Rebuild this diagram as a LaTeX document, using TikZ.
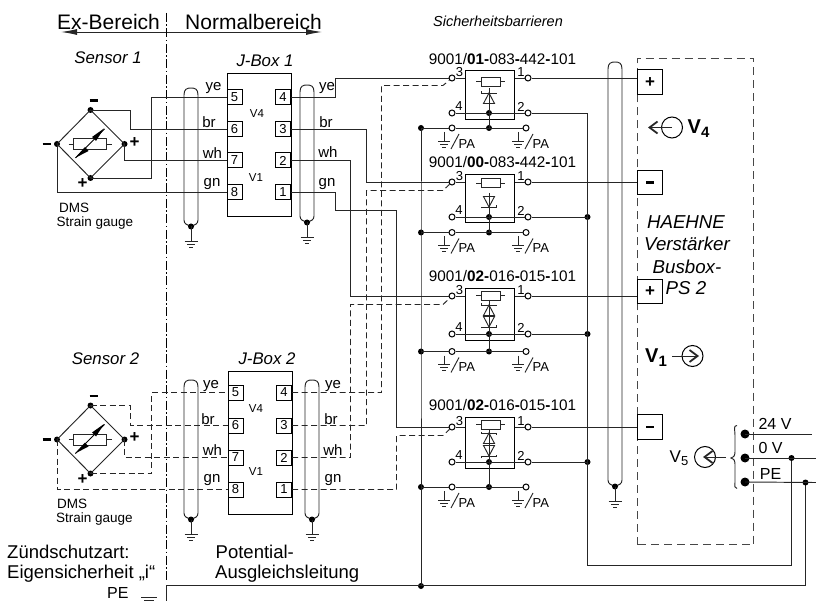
\documentclass[tikz,border=0pt]{standalone}
\usepackage{fontspec}
\setmainfont{Liberation Sans}
\usetikzlibrary{arrows.meta}
\tikzset{
 wire/.style={line width=0.95pt,line join=miter,color=black!85},
 dwire/.style={wire,dash pattern=on 6pt off 3.5pt},
 pin/.style={draw,line width=1pt,minimum width=15pt,minimum height=15pt,inner sep=0,font=\fontsize{13}{14}\selectfont,fill=white},
 jbox/.style={draw,line width=1pt,inner sep=0,anchor=north west},
 barrier/.style={draw,line width=1pt,inner sep=0,anchor=north west},
 term/.style={circle,draw,line width=1pt,fill=white,minimum size=6pt,inner sep=0},
 dotn/.style={circle,fill=black,minimum size=6pt,inner sep=0},
 bigdot/.style={circle,fill=black,minimum size=9pt,inner sep=0},
 txt/.style={inner sep=0,font=\fontsize{11.5}{13}\selectfont},
 dms/.style={inner sep=0,anchor=west,font=\fontsize{13.5}{15}\selectfont},
 big/.style={inner sep=0,font=\fontsize{21}{23}\selectfont},
 mid/.style={inner sep=0,anchor=west,font=\fontsize{18.5}{20}\selectfont},
 sit/.style={inner sep=0,font=\itshape\fontsize{16.8}{18}\selectfont},
 hae/.style={inner sep=0,font=\itshape\fontsize{18.7}{20}\selectfont},
 lbl/.style={inner sep=0,font=\fontsize{15}{16}\selectfont},
 sup/.style={inner sep=0,font=\fontsize{16}{18}\selectfont},
 code/.style={inner sep=0,font=\fontsize{15.3}{17}\selectfont},
 nrr/.style={inner sep=0,font=\fontsize{13}{14}\selectfont},
 pol/.style={inner sep=0,font=\bfseries\fontsize{17}{18}\selectfont},
 tbox/.style={draw,line width=1pt,minimum width=25pt,minimum height=24.5pt,inner sep=0,anchor=north west,fill=white,font=\bfseries\fontsize{17}{18}\selectfont},
 barb/.style={-{Straight Barb[length=8pt,width=12pt,line width=1.8pt]}},
}
\newcommand{\gndsym}[2]{% x, y (top of symbol)
 \draw[wire] (#1-6.5,#2) -- (#1+6.5,#2) (#1-4.2,#2+3) -- (#1+4.2,#2+3) (#1-2,#2+6) -- (#1+2,#2+6);}
\newcommand{\shieldcable}[5]{% name x1 x2 ytop ybot
 \pgfmathsetmacro{\cxm}{(#2+#3)/2}
 \draw[wire] (#2,{#4+7}) .. controls (#2,{#4+1}) and (#2+3,#4) .. (\cxm,#4) .. controls (#3-3,#4) and (#3,{#4+1}) .. (#3,{#4+7}) -- (#3,{#5-5}) .. controls (#3,{#5-1}) and (#3-3,#5) .. (\cxm,{#5+1}) .. controls (#2+3,#5) and (#2,{#5-1}) .. (#2,{#5-5}) -- cycle;
 \node[dotn] (#1) at (\cxm,{#5+1.5}) {};
 \draw[wire] (#1.center) -- ++(0,15);
 \gndsym{\cxm}{#5+16.5}}
\newcommand{\sensor}[3]{% name, cx, cy
 \node[dotn] (#1t) at (#2,#3-34) {};
 \node[dotn] (#1b) at (#2,#3+34) {};
 \node[dotn] (#1l) at (#2-33.5,#3) {};
 \node[dotn] (#1r) at (#2+34,#3) {};
 \draw[wire] (#1t.center) -- (#1r.center) -- (#1b.center) -- (#1l.center) -- cycle;
 \draw[wire] (#2-22,#3) -- (#2-17,#3) (#2+16,#3) -- (#2+21,#3);
 \draw[wire] (#2-17,#3-5.5) rectangle (#2+16,#3+5.5);
 \draw[line width=0.9pt] (#2-15,#3+14) -- (#2+14,#3-15) ;
 \fill (#2-15.5,#3+14) -- (#2-5.5,#3+3) -- (#2-2,#3+7) -- cycle;
 \fill (#2+13.5,#3-15.5) -- (#2+5.5,#3-3) -- (#2+1.5,#3-7) -- cycle;
 \node[pol] at (#2+3,#3-43.5) {\rule{8pt}{2.5pt}};
 \node[pol] at (#2-44,#3) {\rule{8pt}{2.5pt}};
 \node[pol] at (#2+44,#3-1.5) {+};
 \node[pol] at (#2-8,#3+40) {+};}
\newcommand{\zenerU}[2]{% apex up, x, y of bar
 \draw[wire] (#1-7.5,#2-1.5) -- (#1-7.5,#2) -- (#1+7.5,#2) -- (#1+7.5,#2+1.5);
 \draw[wire] (#1,#2) -- (#1-5.5,#2+10.5) -- (#1+5.5,#2+10.5) -- cycle;}
\newcommand{\zenerD}[2]{% apex down
 \draw[wire] (#1-7.5,#2+1.5) -- (#1-7.5,#2) -- (#1+7.5,#2) -- (#1+7.5,#2-1.5);
 \draw[wire] (#1,#2) -- (#1-5.5,#2-10.5) -- (#1+5.5,#2-10.5) -- cycle;}
\newcommand{\pasym}[3]{% ground & slash at x,y
 \draw[wire] (#1,#2+4) -- (#1,#2+13);
 \draw[wire] (#1-6,#2+13) -- (#1+6,#2+13) (#1-4,#2+16) -- (#1+4,#2+16) (#1-2,#2+19) -- (#1+2,#2+19);
 \draw[wire] (#1+15,#2+6) -- (#1+7,#2+21);
 \node[nrr,anchor=west] at (#1+14.5,#2+16) {#3};}
\newcommand{\barrierrow}[8]{% name, ytop, ybot, y3, y4, ypa, resistor y centre, label
 \pgfmathsetlengthmacro{\bhh}{(#3-#2)*1pt}
 \node[barrier,minimum width=49pt,minimum height=\bhh] (#1) at (465,#2) {};
 \node[term] (#1t3) at (452,#4) {};
 \node[term] (#1t1) at (528,#4) {};
 \node[term] (#1t4) at (452,#5) {};
 \node[term] (#1t2) at (528,#5) {};
 \node[term] (#1pa) at (452,#6) {};
 \node[term] (#1pb) at (526,#6) {};
 \node[dotn] (#1d) at (489,#5) {};
 \node[dotn] (#1e) at (489,#6) {};
 \node[dotn] (#1g) at (421,#6) {};
 \draw[wire] (#1t3) -- (#1.west |- #1t3);
 \draw[wire] (#1t1) -- (#1.east |- #1t1);
 \draw[wire] (#1t4) -- (#1t2);
 \draw[wire] (#1pa) -- (#1pb);
 \draw[wire] (#1g.center) -- (#1pa);
 \draw[wire] (#1d.center) -- (#1e.center);
 \draw[wire] (476,#7) -- (481,#7) (500,#7) -- (505,#7);
 \draw[wire] (481,#7-4.5) rectangle (500,#7+4.5);
 \node[code] at (502.5,#2-11.5) {#8};
 \node[nrr] at (459.5,#4-6) {3};
 \node[nrr] at (521,#4-6) {1};
 \node[nrr] at (459,#5-6.5) {4};
 \node[nrr] at (521,#5-6.5) {2};
 \pasym{444}{#6}{PA}
 \pasym{518}{#6}{PA}}
\begin{document}
\begin{tikzpicture}[x=1pt,y=-1pt]
\useasboundingbox (0,0) rectangle (816,601);
% header
\node[big] (exb) at (108.5,22) {Ex-Bereich};
\node[big] (nrm) at (253.5,22) {Normalbereich};
\coordinate (arL) at (61,32);
\coordinate (arR) at (322,32);
\draw[wire,{Latex[length=16pt,width=6pt]}-{Latex[length=16pt,width=6pt]}] (arL) -- (arR);
\coordinate (sepT) at (166.5,13);
\coordinate (sepB) at (166.5,581);
\draw[line width=0.7pt,dash pattern=on 9pt off 2.5pt on 1.5pt off 2.5pt] (sepT) -- (sepB);
\node[sit] (s1) at (108,58) {Sensor 1};
\node[sit] (j1) at (265,61) {J-Box 1};
\node[inner sep=0,font=\itshape\fontsize{14.5}{16}\selectfont] (sbh) at (498,21) {Sicherheitsbarrieren};
\node[sit] (s2) at (105.5,359) {Sensor 2};
\node[sit] (j2) at (267,359) {J-Box 2};
% J-boxes
\node[jbox,minimum width=64pt,minimum height=143pt] (J1) at (227,73) {};
\foreach \n/\y in {5/97.5,6/129.5,7/160.5,8/192.5}{\node[pin] (a\n) at (234.5,\y) {\n};}
\foreach \n/\y in {4/97.5,3/129.5,2/160.5,1/192.5}{\node[pin] (a\n) at (283,\y) {\n};}
\node[txt] at (257,114) {V4};
\node[txt] at (256,178) {V1};
\node[jbox,minimum width=64pt,minimum height=143pt] (J2) at (228,371) {};
\foreach \n/\y in {5/392.5,6/425.5,7/457.5,8/489.5}{\node[pin] (b\n) at (235.5,\y) {\n};}
\foreach \n/\y in {4/392.5,3/425.5,2/457.5,1/489.5}{\node[pin] (b\n) at (284,\y) {\n};}
\node[txt] at (256,409) {V4};
\node[txt] at (256,472) {V1};
% sensors
\sensor{sa}{90.5}{144}
\sensor{sb}{90.5}{439.5}
% sensor 1 wiring
\draw[wire] (sat.center) -- (130.5,110) -- (130.5,129.5) -- (a6);
\draw[wire] (sar.center) -- (124.5,160.5) -- (a7);
\draw[wire] (sab.center) -- (151,178) -- (151,97.5) -- (a5);
\draw[wire] (sal.center) -- (57,192.5) -- (a8);
% sensor 2 wiring
\draw[dwire] (sbt.center) -- (130.5,405.5) -- (130.5,425.5) -- (b6);
\draw[dwire] (sbr.center) -- (124.5,457.5) -- (b7);
\draw[dwire] (sbb.center) -- (151.5,473.5) -- (151.5,392.5) -- (b5);
\draw[dwire] (sbl.center) -- (57,489.5) -- (b8);
% barriers
\barrierrow{B1}{70.5}{119}{78}{113}{128}{81.5}{9001/\textbf{01-}083\textbf{-}442\textbf{-}101}
\barrierrow{B2}{174}{222.5}{182}{217}{232.5}{183}{9001/\textbf{00-}083\textbf{-}442\textbf{-}101}
\barrierrow{B3}{288}{340}{296}{334}{351.5}{295.5}{9001/\textbf{02-}016\textbf{-}015\textbf{-}101}
\barrierrow{B4}{417}{467.5}{427}{462}{487}{424.5}{9001/\textbf{02-}016\textbf{-}015\textbf{-}101}
% diodes
\draw[wire] (489,88) -- (B1d.center);
\zenerU{489}{93}
\draw[wire] (489,193) -- (B2d.center);
\zenerD{489}{207}
\draw[wire] (489,300) -- (B3d.center);
\zenerU{489}{305}\zenerD{489}{327}
\draw[wire] (489,429) -- (B4d.center);
\zenerU{489}{433}\zenerD{489}{456}
% J-box 1 to barriers
\draw[wire] (a4) -- (335.5,97.5) -- (335.5,78) -- (B1t3);
\draw[wire] (a3) -- (366.5,129.5) -- (366.5,182) -- (B2t3);
\draw[wire] (a2) -- (350.5,160.5) -- (350.5,296) -- (B3t3);
\draw[wire] (a1) -- (335.5,192.5) -- (335.5,210.5) -- (396.5,210.5) -- (396.5,427) -- (B4t3);
% J-box 2 to barriers (dashed)
\draw[dwire] (b4) -- (381.5,392.5) -- (381.5,85.5) -- (443,85.5) -- (B1t3);
\draw[dwire] (b3) -- (366.5,425.5) -- (366.5,190.5) -- (443,190.5) -- (B2t3);
\draw[dwire] (b2) -- (350.5,457.5) -- (350.5,304.5) -- (443,304.5) -- (B3t3);
\draw[dwire] (b1) -- (396.5,489.5) -- (396.5,435.5) -- (443,435.5) -- (B4t3);
% cables
\shieldcable{c1}{184}{198}{88}{225}
\shieldcable{c2}{300}{314}{85}{221}
\shieldcable{c3}{184}{198}{380}{518}
\shieldcable{c4}{305}{319}{380}{518}
% wire labels
\foreach \p/\t in {{213.5,88}/ye,{209,122}/br,{212.5,153}/wh,{212,184}/gn,{327,88}/ye,{326,122.5}/br,{328,152.5}/wh,{327,184}/gn,
 {211,386}/ye,{208,419}/br,{212.5,450}/wh,{212,480}/gn,{333,386}/ye,{331,419}/br,{333,450}/wh,{333,480}/gn}
 \node[lbl] at (\p) {\t};
% DMS
\node[dms] at (59,208) {DMS};
\node[dms] at (56.5,223) {Strain gauge};
\node[dms] at (57,504) {DMS};
\node[dms] at (56,519.5) {Strain gauge};
% bus lines
\node[dotn] (d2) at (587.5,217) {};
\node[dotn] (d3) at (587.5,334) {};
\node[dotn] (d4) at (587.5,462) {};
\draw[wire] (B1t2) -- (587.5,113) -- (d2.center) -- (d3.center) -- (d4.center) -- (587.5,565) -- (791.5,565) -- (791.5,458);
\draw[wire] (B2t2) -- (d2.center);
\draw[wire] (B3t2) -- (d3.center);
\draw[wire] (B4t2) -- (d4.center);
\draw[wire] (B1g.center) -- (B2g.center) -- (B3g.center) -- (B4g.center);
\node[dotn] (dpe) at (421,586) {};
\draw[wire] (B4g.center) -- (dpe.center);
\coordinate (peS) at (166.5,601);
\draw[wire] (peS) -- (166.5,585.5) -- (805.5,585.5) -- (805.5,482.5);
% amplifier
\draw[line width=1.1pt,color=black!72,dash pattern=on 8pt off 5pt] (637.5,544.5) -- (637.5,58.5) -- (753.5,58.5) -- (753.5,544.5) -- cycle;
\shieldcable{c5}{608}{622}{62}{485}
\node[tbox] (T1) at (637,69.5) {+};
\node[tbox] (T2) at (637,170) {\rule{8pt}{2.5pt}};
\node[tbox] (T3) at (637,279) {+};
\node[tbox] (T4) at (637,414) {\rule{8pt}{2.5pt}};
\draw[wire] (B1t1) -- (T1.west |- B1t1);
\draw[wire] (B2t1) -- (T2.west |- B2t1);
\draw[wire] (B3t1) -- (T3.west |- B3t1);
\draw[wire] (B4t1) -- (T4.west |- B4t1);
% meters
\node[circle,draw,line width=1pt,minimum size=21pt,inner sep=0] (m4) at (672,127.5) {};
\draw[wire,barb] (m4.center) -- (648,127.5);
\node[inner sep=0,font=\bfseries\fontsize{20}{20}\selectfont] at (698.5,129) {V\raisebox{-4pt}{\fontsize{15}{15}\selectfont 4}};
\node[inner sep=0,font=\bfseries\fontsize{20}{20}\selectfont] at (656,358) {V\raisebox{-4pt}{\fontsize{15}{15}\selectfont 1}};
\node[circle,draw,line width=1pt,minimum size=21pt,inner sep=0] (m1) at (692.5,356) {};
\coordinate (m1s) at (672,356);
\coordinate (m1t) at (699,356);
\draw[wire,barb] (m1s) -- (m1t);
\node[inner sep=0,font=\fontsize{17}{18}\selectfont] at (679,458) {V\raisebox{-3pt}{\fontsize{13}{13}\selectfont 5}};
\node[circle,draw,line width=1pt,minimum size=21pt,inner sep=0] (m5) at (705,457) {};
\coordinate (m5e) at (726,457);
\coordinate (m5t) at (703,457);
\draw[wire,barb] (m5e) -- (m5t);
% HAEHNE
\node[hae] at (686,222) {HAEHNE};
\node[hae] at (687,243.5) {Verstärker};
\node[hae] at (687,267) {Busbox-};
\node[hae] at (686,288.5) {PS 2};
% supply
\node[bigdot] (p1) at (745,434) {};
\node[bigdot] (p2) at (745,458) {};
\node[bigdot] (p3) at (745,482) {};
\node[dotn] (p2d) at (791.5,458) {};
\node[dotn] (p3d) at (805.5,482.5) {};
\coordinate (p1e) at (812,434);
\coordinate (p2e) at (816,458);
\coordinate (p3e) at (816,482.5);
\draw[wire] (p1.center) -- (p1e);
\draw[wire] (p2.center) -- (p2e);
\draw[wire] (p3.center) -- (p3e);
\draw[wire] (737,425.5) .. controls (733,425.5) and (735,430) .. (735,435) -- (735,452) .. controls (735,456) and (733,458) .. (731,458) .. controls (733,458) and (735,460) .. (735,464) -- (735,482) .. controls (735,486) and (734,488.5) .. (737,488.5);
\node[sup] at (775,423.5) {24 V};
\node[sup] at (770.5,448) {0 V};
\node[sup] at (770.5,474) {PE};
% bottom text
\node[mid] at (7,552) {Zündschutzart:};
\node[mid] at (7,573.5) {Eigensicherheit „i“};
\node[mid] at (215.5,552) {Potential-};
\node[mid] at (215,573.5) {Ausgleichsleitung};
\node[mid,font=\fontsize{16}{17}\selectfont] at (107,593) {PE};
\draw[wire] (141,597.5) -- (157,597.5) (144,600.5) -- (154,600.5);
\end{tikzpicture}
\end{document}
